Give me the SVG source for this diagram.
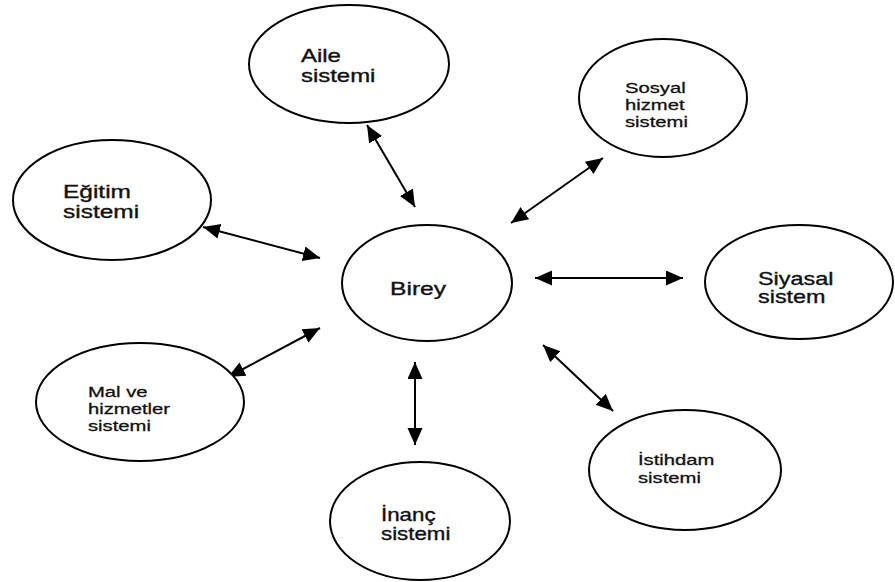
<svg xmlns="http://www.w3.org/2000/svg" width="895" height="582" viewBox="0 0 895 582">
<defs>
<style>
.n{fill:#fff;stroke:#000;stroke-width:2}
.t{font-family:"Liberation Sans",Arial,sans-serif;font-size:18px;fill:#111;stroke:#111;stroke-width:0.35}
.s{font-family:"Liberation Sans",Arial,sans-serif;font-size:15px;fill:#111;stroke:#111;stroke-width:0.3}
.c{stroke:#000;stroke-width:2;fill:none;marker-start:url(#ah);marker-end:url(#ah)}
</style>
<marker id="ah" markerUnits="userSpaceOnUse" markerWidth="18" markerHeight="16" refX="17" refY="7.5" orient="auto-start-reverse" viewBox="0 0 18 16">
<path d="M0,0 L17,7.5 L0,15 z" fill="#000"/>
</marker>
</defs>
<rect width="895" height="582" fill="#fff"/>
<g id="connectors">
<line class="c" x1="367" y1="125" x2="415" y2="207"/>
<line class="c" x1="511" y1="223" x2="603" y2="158"/>
<line class="c" x1="203" y1="227" x2="320" y2="258"/>
<line class="c" x1="535" y1="278" x2="683" y2="278"/>
<line class="c" x1="228" y1="377" x2="320" y2="328"/>
<line class="c" x1="543" y1="345" x2="613" y2="411"/>
<line class="c" x1="415" y1="362" x2="415" y2="445"/>
</g>
<g id="aile">
<ellipse class="n" cx="349" cy="64" rx="100" ry="59"/>
<text class="t" transform="translate(301,62) scale(1.33,1)"><tspan x="0">Aile</tspan><tspan x="0" dy="20">sistemi</tspan></text>
</g>
<g id="sosyal">
<ellipse class="n" cx="663" cy="98" rx="84" ry="59"/>
<text class="s" transform="translate(625,93) scale(1.35,1)"><tspan x="0">Sosyal</tspan><tspan x="0" dy="17">hizmet</tspan><tspan x="0" dy="17">sistemi</tspan></text>
</g>
<g id="egitim">
<ellipse class="n" cx="112" cy="200" rx="99" ry="60"/>
<text class="t" transform="translate(63,198) scale(1.36,1)"><tspan x="0">Eğitim</tspan><tspan x="0" dy="20">sistemi</tspan></text>
</g>
<g id="birey">
<ellipse class="n" cx="427" cy="283" rx="85" ry="58"/>
<text class="t" transform="translate(390,295) scale(1.37,1)">Birey</text>
</g>
<g id="siyasal">
<ellipse class="n" cx="799" cy="282" rx="94" ry="57"/>
<text class="t" transform="translate(758,285) scale(1.3,1)"><tspan x="0">Siyasal</tspan><tspan x="0" dy="18">sistem</tspan></text>
</g>
<g id="mal">
<ellipse class="n" cx="140" cy="402" rx="104" ry="59"/>
<text class="s" transform="translate(88,397) scale(1.35,1)"><tspan x="0">Mal ve</tspan><tspan x="0" dy="17">hizmetler</tspan><tspan x="0" dy="17">sistemi</tspan></text>
</g>
<g id="istihdam">
<ellipse class="n" cx="685" cy="470" rx="96" ry="60"/>
<text class="s" transform="translate(638,465) scale(1.35,1)"><tspan x="0">İstihdam</tspan><tspan x="0" dy="18">sistemi</tspan></text>
</g>
<g id="inanc">
<ellipse class="n" cx="420" cy="521" rx="90" ry="59"/>
<text class="t" transform="translate(381,521) scale(1.24,1)"><tspan x="0">İnanç</tspan><tspan x="0" dy="19">sistemi</tspan></text>
</g>
</svg>
